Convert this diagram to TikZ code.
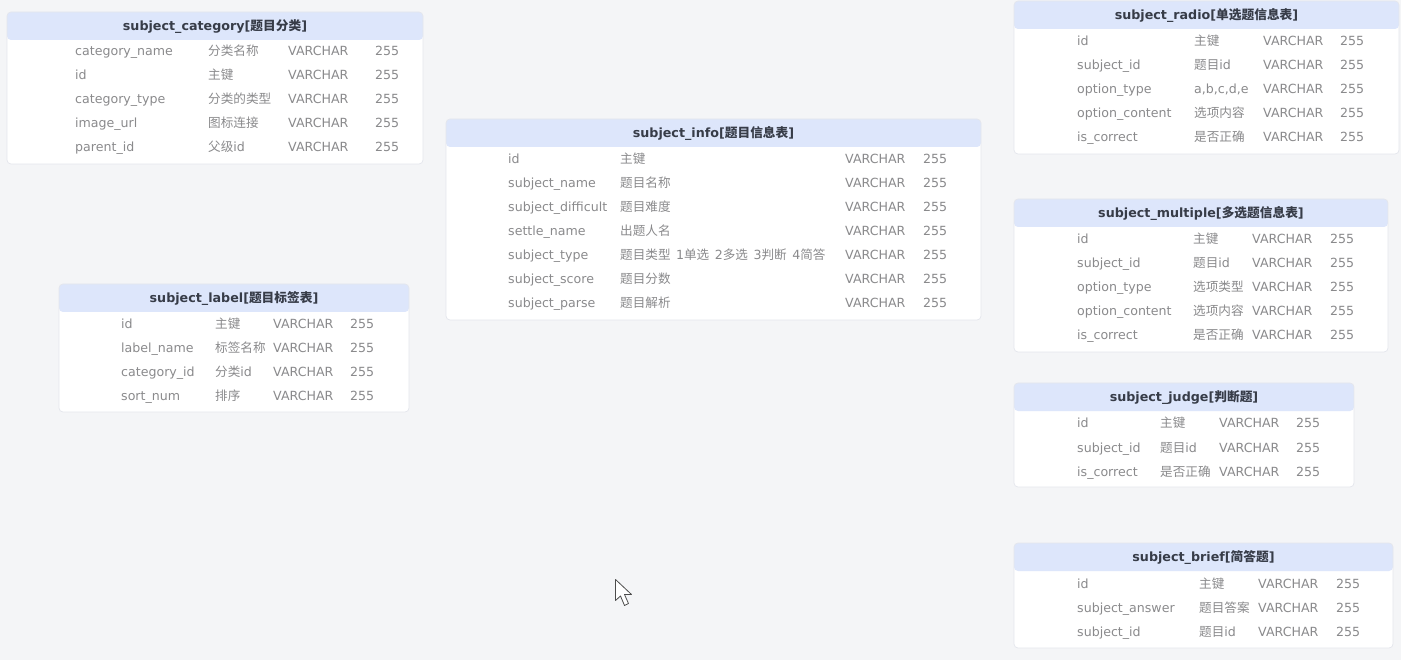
\documentclass[tikz,border=0pt]{standalone}
\usepackage{fontspec}
\setmainfont{DejaVu Sans}
\newfontfamily\cjk{Noto Sans CJK SC}
\definecolor{bg}{RGB}{244,245,247}
\definecolor{headblue}{RGB}{221,230,251}
\definecolor{cardline}{RGB}{228,230,236}
\definecolor{bodytext}{RGB}{138,138,140}
\definecolor{titletext}{RGB}{55,60,72}
\tikzset{
  card/.style={draw=cardline, fill=white, rounded corners=4pt, inner sep=0pt, outer sep=0pt, line width=0.7pt,
    path picture={\fill[headblue] (path picture bounding box.north west) rectangle ([yshift=-28pt]path picture bounding box.north east);}},
  ttl/.style={inner sep=0pt, text=titletext, font=\fontsize{12.7}{14}\selectfont\bfseries},
  cell/.style={anchor=base west, inner sep=0pt, text=bodytext, font=\fontsize{12.6}{14}\selectfont},
  ccell/.style={anchor=base west, inner sep=0pt, text=bodytext, font=\fontsize{12.6}{14}\selectfont}
}
\newcommand\C[1]{{\cjk #1}}
\newcommand\gap{\hspace{5.5pt}}
\newcommand\tname[2]{#1[{\cjk\bfseries #2}]}
\newcommand\dbcard[6]{%
  \node[card, minimum width={#4-#2}, minimum height={#5-#3}] (#1) at ({(#2+#4)/2},{(#3+#5)/2}) {};
  \node[ttl] (#1-title) at ({(#2+#4)/2},{#3+14.5}) {#6};
}
\newcommand\dbrows[7]{%
  \foreach \ca/\cb [count=\i from 0] in {#7} {
    \node[cell]  (#1-n\i) at (#3,{#2+24*\i+5}) {\ca};
    \node[ccell] (#1-c\i) at (#4,{#2+24*\i+5}) {\cb};
    \node[cell]  (#1-t\i) at (#5,{#2+24*\i+5}) {VARCHAR};
    \node[cell]  (#1-l\i) at (#6,{#2+24*\i+5}) {255};
  }
}
\begin{document}
\begin{tikzpicture}[x=1pt,y=-1pt]
\fill[bg] (0,0) rectangle (1401,660);
\useasboundingbox (0,0) rectangle (1401,660);

% subject_category
\dbcard{cat}{7}{12}{423}{164}{\tname{subject\_category}{题目分类}}
\dbrows{cat}{51}{75}{208}{288}{375}{category\_name/\C{分类名称}, id/\C{主键}, category\_type/\C{分类的类型}, image\_url/\C{图标连接}, parent\_id/\C{父级}id}

% subject_label
\dbcard{lab}{59}{284}{409}{412}{\tname{subject\_label}{题目标签表}}
\dbrows{lab}{324}{121}{215}{273}{350}{id/\C{主键}, label\_name/\C{标签名称}, category\_id/\C{分类}id, sort\_num/\C{排序}}

% subject_info
\dbcard{info}{446}{119}{981}{320}{\tname{subject\_info}{题目信息表}}
\dbrows{info}{159}{508}{620}{845}{923}{id/\C{主键}, subject\_name/\C{题目名称}, subject\_difficult/\C{题目难度}, settle\_name/\C{出题人名}, subject\_type/\C{题目类型}\gap 1\C{单选}\gap 2\C{多选}\gap 3\C{判断}\gap 4\C{简答}, subject\_score/\C{题目分数}, subject\_parse/\C{题目解析}}

% subject_radio
\dbcard{radio}{1014}{1}{1399}{154}{\tname{subject\_radio}{单选题信息表}}
\dbrows{radio}{41}{1077}{1194}{1263}{1340}{id/\C{主键}, subject\_id/\C{题目}id, option\_type/{a,b,c,d,e}, option\_content/\C{选项内容}, is\_correct/\C{是否正确}}

% subject_multiple
\dbcard{mult}{1014}{199}{1388}{352}{\tname{subject\_multiple}{多选题信息表}}
\dbrows{mult}{239}{1077}{1193}{1252}{1330}{id/\C{主键}, subject\_id/\C{题目}id, option\_type/\C{选项类型}, option\_content/\C{选项内容}, is\_correct/\C{是否正确}}

% subject_judge
\dbcard{judge}{1014}{383}{1354}{487}{\tname{subject\_judge}{判断题}}
\dbrows{judge}{423}{1077}{1160}{1219}{1296}{id/\C{主键}, subject\_id/\C{题目}id, is\_correct/\C{是否正确}}

% subject_brief
\dbcard{brief}{1014}{543}{1393}{648}{\tname{subject\_brief}{简答题}}
\dbrows{brief}{583}{1077}{1199}{1258}{1336}{id/\C{主键}, subject\_answer/\C{题目答案}, subject\_id/\C{题目}id}

% mouse cursor
\draw[fill=white, draw=black!70, line width=0.8pt, line join=round]
  (615.5,579.5) -- (615.5,600.5) -- (620.5,596) -- (624.5,605.5) -- (628.5,603.5) -- (624.5,594.5) -- (631.5,594.5) -- cycle;
\end{tikzpicture}
\end{document}
